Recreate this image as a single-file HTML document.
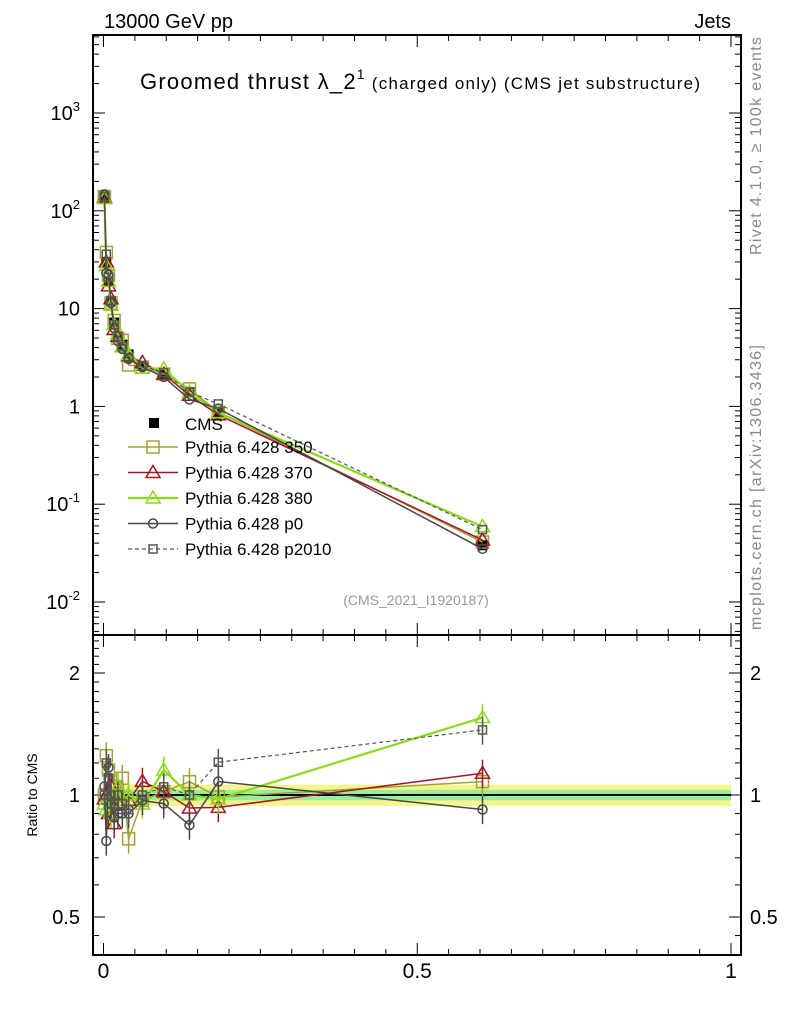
<!DOCTYPE html>
<html><head><meta charset="utf-8"><style>
body{margin:0;background:#fff;font-family:"Liberation Sans",sans-serif}
svg text{font-family:"Liberation Sans",sans-serif}
</style></head><body>
<svg id="c" width="786" height="1024" viewBox="0 0 786 1024" xmlns="http://www.w3.org/2000/svg">
<text x="104" y="28" font-size="20">13000 GeV pp</text>
<text x="731" y="28" font-size="20" text-anchor="end">Jets</text>
<text x="140" y="89" font-size="22" textLength="560">Groomed thrust λ_2<tspan font-size="14" dy="-10">1</tspan><tspan font-size="17" dy="10"> (charged only) (CMS jet substructure)</tspan></text>
<text transform="translate(761,255) rotate(-90)" font-size="16" textLength="218" fill="#888">Rivet 4.1.0, ≥ 100k events</text>
<text transform="translate(761,630) rotate(-90)" font-size="16" textLength="285" fill="#888">mcplots.cern.ch [arXiv:1306.3436]</text>
<text x="416" y="605" font-size="14" fill="#999" text-anchor="middle">(CMS_2021_I1920187)</text>
<text transform="translate(37,795) rotate(-90)" font-size="14" text-anchor="middle">Ratio to CMS</text>
<g id="g"></g>
</svg>
<script>
const xs=[0.0015,0.0045,0.008,0.012,0.017,0.023,0.03,0.04,0.062,0.096,0.137,0.183,0.604];
const cms=[140,30,19,12,7.2,5.2,4.3,3.4,2.6,2.1,1.4,0.88,0.038];
const s350=[140,37.5,21.9,11.4,7.56,4.94,4.73,2.65,2.52,2.14,1.51,0.87,0.041];
const s370=[137,30,17.1,12.6,6.12,5.2,4.09,3.3,2.81,2.14,1.30,0.82,0.043];
const s380=[133,27.6,19,10.8,6.84,5.46,4.09,3.4,2.47,2.42,1.4,0.86,0.059];
const sp0=[147,23.1,22.2,11.4,6.34,4.68,3.87,3.06,2.52,2.0,1.18,0.95,0.035];
const sp2010=[140,36,20.9,12,6.84,5.2,4.09,3.13,2.6,2.2,1.4,1.06,0.055];
const xTicks=[0,0.5,1];const xTickLabels=["0","0.5","1"];
const yTicks=[-2,-1,0,1,2,3];const yTickLabels=["10","10","1","10","10","10"];
const rTicks=[0.5,1,2];const rTickLabels=["0.5","1","2"];
const NS="http://www.w3.org/2000/svg",G=document.getElementById('g');
const L=93,R=741,T=35,MB=635,RB=955;
const X=v=>103.5+v*627.5;
const Y=v=>113-(Math.log10(v)-3)*97.8;
const RY=v=>795-Math.log10(v)*405.3;
function el(t,a,p){const e=document.createElementNS(NS,t);for(const k in a)e.setAttribute(k,a[k]);(p||G).appendChild(e);return e;}
let b=el('rect',{x:X(0),y:RY(1.06),width:X(1)-X(0),height:RY(0.94)-RY(1.06),fill:'#f5f58a'});


b=el('rect',{x:X(0),y:RY(1.03),width:X(1)-X(0),height:RY(0.97)-RY(1.03),fill:'#99ee99'});


let ln=el('line',{x1:X(0),x2:X(1),y1:RY(1),y2:RY(1),stroke:'#000','stroke-width':2});


let f=el('rect',{x:L,y:T,width:R-L,height:MB-T,fill:'none',stroke:'#000','stroke-width':2});


f=el('rect',{x:L,y:MB,width:R-L,height:RB-MB,fill:'none',stroke:'#000','stroke-width':2});


for(let i=0;i<=20;i++){const v=i*0.05,x=X(v),big=i%10==0,sz=big?12:6;
 for(const [t,b2] of [[T,MB],[MB,RB]]){el('line',{x1:x,x2:x,y1:b2,y2:b2-sz,stroke:'#000'});el('line',{x1:x,x2:x,y1:t,y2:t+sz,stroke:'#000'});}}
xTicks.forEach((v,i)=>{const t=el('text',{x:X(v),y:978,'font-size':21,'text-anchor':'middle'});t.textContent=xTickLabels[i];

});
for(let d=-3;d<=3;d++)for(let m=1;m<10;m++){const v=m*Math.pow(10,d),y=Y(v);if(y<T||y>MB)continue;const sz=m==1?12:6;
 el('line',{x1:L,x2:L+sz,y1:y,y2:y,stroke:'#000'});el('line',{x1:R,x2:R-sz,y1:y,y2:y,stroke:'#000'});}
yTicks.forEach((d,i)=>{const y=Y(Math.pow(10,d));const t=el('text',{x:80,y:y+7,'font-size':20,'text-anchor':'end'});
 t.textContent=yTickLabels[i];if(d!==0&&d!==1){const s=el('tspan',{'font-size':13,dy:-9},t);s.textContent=String(d);}
 
 });
for(let v=0.5;v<=2.5;v+=0.1){const y=RY(v);if(y<MB||y>RB)continue;const big=Math.abs(v-0.5)<1e-6||Math.abs(v-1)<1e-6||Math.abs(v-2)<1e-6;const sz=big?12:6;
 el('line',{x1:L,x2:L+sz,y1:y,y2:y,stroke:'#000'});el('line',{x1:R,x2:R-sz,y1:y,y2:y,stroke:'#000'});}
for(const v of [0.4,0.45]){const y=RY(v);if(y<RB){el('line',{x1:L,x2:L+6,y1:y,y2:y,stroke:'#000'});el('line',{x1:R,x2:R-6,y1:y,y2:y,stroke:'#000'});}}
rTicks.forEach((v,i)=>{const y=RY(v);for(const [x,a] of [[80,'end'],[750,'start']]){const t=el('text',{x:x,y:y+7,'font-size':20,'text-anchor':a});t.textContent=rTickLabels[i];
 
 }});
function marker(type,x,y,col,g){const s=6;
 if(type=='sq')return el('rect',{x:x-s,y:y-s,width:2*s,height:2*s,fill:'none',stroke:col,'stroke-width':1.5},g);
 if(type=='tri')return el('polygon',{points:`${x},${y-7} ${x-7},${y+5} ${x+7},${y+5}`,fill:'none',stroke:col,'stroke-width':1.5},g);
 if(type=='circ')return el('circle',{cx:x,cy:y,r:4.5,fill:'none',stroke:col,'stroke-width':1.5},g);
 if(type=='ssq')return el('rect',{x:x-4,y:y-4,width:8,height:8,fill:'none',stroke:col,'stroke-width':1.5},g);
 if(type=='fill')return el('rect',{x:x-5,y:y-5,width:10,height:10,fill:col},g);}
const series=[
 {name:'Pythia 6.428 350',vals:s350,col:'#a4a033',m:'sq',dash:'',w:1.5,key:'350'},
 {name:'Pythia 6.428 370',vals:s370,col:'#a51424',m:'tri',dash:'',w:1.5,key:'370'},
 {name:'Pythia 6.428 380',vals:s380,col:'#8ada1a',m:'tri',dash:'',w:2.2,key:'380'},
 {name:'Pythia 6.428 p0',vals:sp0,col:'#474747',m:'circ',dash:'',w:1.5,key:'p0'},
 {name:'Pythia 6.428 p2010',vals:sp2010,col:'#555',m:'ssq',dash:'4,3',w:1.2,key:'p2010'}];
const cg=el('g',{});


xs.forEach((x,i)=>{marker('fill',X(x),Y(cms[i]),'#000',cg);});
series.forEach(s=>{
 const g=el('g',{});
 
 
 const p1=xs.map((x,i)=>X(x)+','+Y(s.vals[i])).join(' ');
 el('polyline',{points:p1,fill:'none',stroke:s.col,'stroke-width':s.w,'stroke-dasharray':s.dash},g);
 xs.forEach((x,i)=>marker(s.m,X(x),Y(s.vals[i]),s.col,g));
 const rg=el('g',{});
 
 
 const r=xs.map((x,i)=>s.vals[i]/cms[i]);
 el('polyline',{points:xs.map((x,i)=>X(x)+','+RY(r[i])).join(' '),fill:'none',stroke:s.col,'stroke-width':s.w,'stroke-dasharray':s.dash},rg);
 xs.forEach((x,i)=>{const e=r[i]*0.08;el('line',{x1:X(x),x2:X(x),y1:RY(r[i]+e),y2:RY(r[i]-e),stroke:s.col,'stroke-width':1.5},rg);
  marker(s.m,X(x),RY(r[i]),s.col,rg);});
});
const lg=el('g',{});


marker('fill',154,423,'#000',lg);
let t=el('text',{x:185,y:430,'font-size':17},lg);t.textContent='CMS';
series.forEach((s,i)=>{const y=447+i*25.5;
 el('line',{x1:128,x2:178,y1:y,y2:y,stroke:s.col,'stroke-width':s.w,'stroke-dasharray':s.dash},lg);
 marker(s.m,153,y,s.col,lg);
 const tx=el('text',{x:185,y:y+6,'font-size':17},lg);tx.textContent=s.name;
 
 });
</script>
</body></html>
